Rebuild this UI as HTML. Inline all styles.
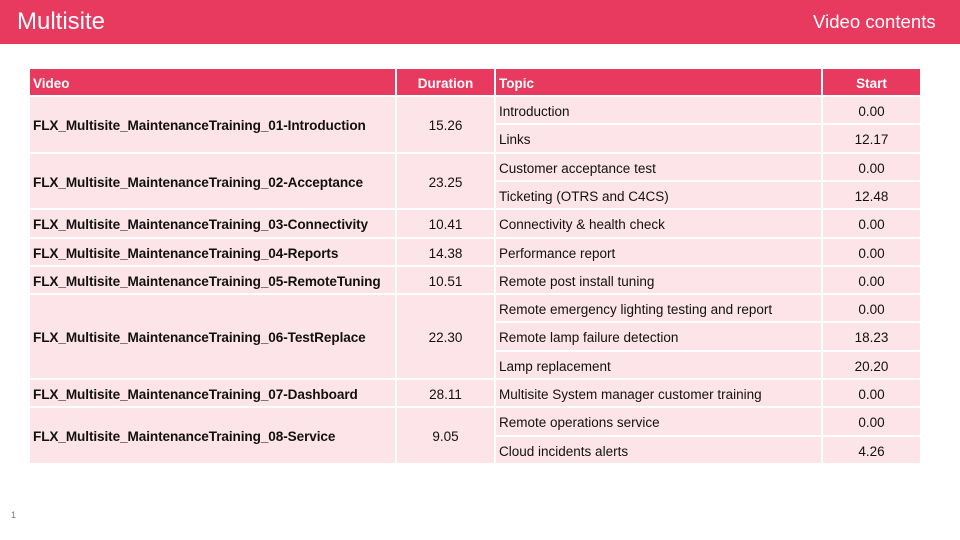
<!DOCTYPE html>
<html><head><meta charset="utf-8"><style>
body{margin:0;width:960px;height:540px;position:relative;background:#fff;font-family:"Liberation Sans",sans-serif;overflow:hidden}
.bar{position:absolute;left:0;top:0;width:960px;height:44px;background:#E8395E}
.t{position:absolute;color:#fff}
.c{position:absolute;box-sizing:border-box;background:#FDE4E8;display:flex;align-items:center;font-size:13.5px;color:#111;border-right:2px solid #fff;border-bottom:2px solid #fff;white-space:nowrap;padding-top:2px}
.h{background:#E8395E;color:#fff;font-weight:bold;font-size:13.5px}
.b{font-weight:bold;font-size:13.6px;letter-spacing:-0.1px}
.ctr{justify-content:center}
.l{padding-left:3px}
</style></head><body>
<div class="bar"></div>
<div class="t" style="left:17px;top:8px;font-size:24px">Multisite</div>
<div class="t" style="left:813px;top:11px;font-size:18.6px">Video contents</div>
<div style="position:absolute;left:11px;top:510px;font-size:9px;color:#777">1</div>
<div id="tb"></div>
<script>
var X=[30,397,496,823,922];var top0=97,rh=28.31;
var tb=document.getElementById('tb');
function cell(x0,x1,y0,y1,txt,cls){var d=document.createElement('div');d.className='c '+cls;d.style.left=x0+'px';d.style.width=(x1-x0)+'px';d.style.top=y0+'px';d.style.height=(y1-y0)+'px';d.textContent=txt;tb.appendChild(d);}
cell(X[0],X[1],69,97,'Video','h l');cell(X[1],X[2],69,97,'Duration','h ctr');cell(X[2],X[3],69,97,'Topic','h l');cell(X[3],X[4],69,97,'Start','h ctr');
var data=[
['FLX_Multisite_MaintenanceTraining_01-Introduction','15.26',[['Introduction','0.00'],['Links','12.17']]],
['FLX_Multisite_MaintenanceTraining_02-Acceptance','23.25',[['Customer acceptance test','0.00'],['Ticketing (OTRS and C4CS)','12.48']]],
['FLX_Multisite_MaintenanceTraining_03-Connectivity','10.41',[['Connectivity & health check','0.00']]],
['FLX_Multisite_MaintenanceTraining_04-Reports','14.38',[['Performance report','0.00']]],
['FLX_Multisite_MaintenanceTraining_05-RemoteTuning','10.51',[['Remote post install tuning','0.00']]],
['FLX_Multisite_MaintenanceTraining_06-TestReplace','22.30',[['Remote emergency lighting testing and report','0.00'],['Remote lamp failure detection','18.23'],['Lamp replacement','20.20']]],
['FLX_Multisite_MaintenanceTraining_07-Dashboard','28.11',[['Multisite System manager customer training','0.00']]],
['FLX_Multisite_MaintenanceTraining_08-Service','9.05',[['Remote operations service','0.00'],['Cloud incidents alerts','4.26']]]];
var r=0;
data.forEach(function(g){var y0=Math.round(top0+r*rh),y1=Math.round(top0+(r+g[2].length)*rh);
cell(X[0],X[1],y0,y1,g[0],'b l');cell(X[1],X[2],y0,y1,g[1],'ctr');
g[2].forEach(function(s,i){var a=Math.round(top0+(r+i)*rh),b=Math.round(top0+(r+i+1)*rh);cell(X[2],X[3],a,b,s[0],'l');cell(X[3],X[4],a,b,s[1],'ctr');});
r+=g[2].length;});
</script>
</body></html>
